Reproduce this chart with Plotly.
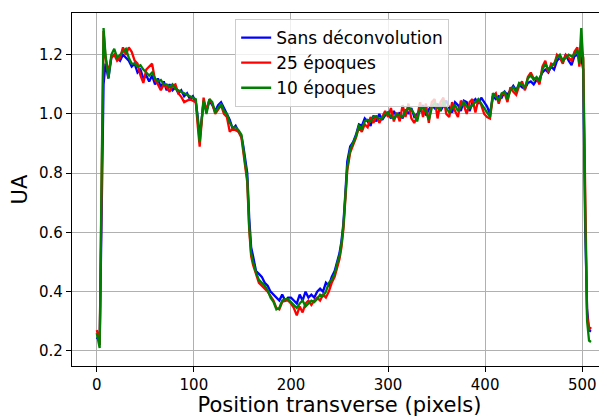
import plotly.graph_objects as go

x_pos = [0, 2, 3, 5, 7, 9, 12, 15, 18, 21, 24, 27, 30, 33, 36, 39, 42, 45, 48, 51, 54, 57, 60, 63, 66, 69, 72, 75, 78, 81, 84, 87, 90, 93, 96, 99, 102, 104, 106, 108, 110, 113, 116, 119, 122, 125, 128, 131, 134, 137, 140, 143, 146, 149, 151, 153, 155, 157, 159, 161, 164, 167, 170, 173, 176, 179, 182, 185, 188, 191, 194, 197, 200, 203, 206, 209, 212, 215, 218, 221, 224, 227, 230, 233, 236, 239, 242, 245, 248, 250, 252, 254, 256, 258, 261, 264, 267, 270, 273, 276, 279, 282, 285, 288, 291, 294, 297, 300, 303, 306, 309, 312, 315, 318, 321, 324, 327, 330, 333, 336, 339, 342, 345, 348, 351, 354, 357, 360, 363, 366, 369, 372, 375, 378, 381, 384, 387, 390, 393, 396, 399, 402, 405, 408, 411, 414, 417, 420, 423, 426, 429, 432, 435, 438, 441, 444, 447, 450, 453, 456, 459, 462, 465, 468, 471, 474, 477, 480, 483, 486, 489, 492, 495, 497, 499, 501, 503, 505, 507, 509]

sans_deconv = [0.24, 0.25, 0.22, 0.65, 1.10, 1.17, 1.12, 1.19, 1.20, 1.19, 1.18, 1.20, 1.19, 1.18, 1.16, 1.17, 1.14, 1.15, 1.12, 1.13, 1.11, 1.13, 1.10, 1.12, 1.09, 1.11, 1.08, 1.10, 1.08, 1.09, 1.07, 1.08, 1.06, 1.07, 1.05, 1.06, 1.04, 0.99, 0.92, 0.99, 1.04, 1.01, 1.045, 1.03, 1.01, 1.03, 1.04, 1.02, 1.00, 0.98, 0.95, 0.96, 0.94, 0.925, 0.89, 0.85, 0.80, 0.65, 0.55, 0.52, 0.47, 0.46, 0.45, 0.43, 0.42, 0.40, 0.39, 0.38, 0.37, 0.39, 0.37, 0.38, 0.38, 0.37, 0.36, 0.39, 0.37, 0.40, 0.38, 0.39, 0.38, 0.40, 0.41, 0.40, 0.43, 0.42, 0.45, 0.47, 0.51, 0.53, 0.57, 0.63, 0.73, 0.84, 0.89, 0.905, 0.93, 0.965, 0.96, 0.985, 0.975, 0.96, 0.995, 0.975, 1.00, 0.98, 0.995, 1.005, 0.985, 1.01, 0.99, 1.005, 0.985, 1.015, 1.00, 1.02, 0.99, 1.00, 1.01, 1.03, 0.995, 1.015, 1.03, 1.02, 1.035, 1.01, 1.03, 1.045, 1.02, 1.005, 1.04, 1.03, 1.01, 1.045, 1.04, 1.01, 1.04, 1.05, 1.035, 1.055, 1.04, 1.025, 1.00, 1.06, 1.05, 1.06, 1.055, 1.075, 1.065, 1.08, 1.095, 1.08, 1.10, 1.09, 1.085, 1.105, 1.11, 1.10, 1.115, 1.12, 1.14, 1.15, 1.14, 1.16, 1.15, 1.18, 1.19, 1.175, 1.20, 1.18, 1.165, 1.195, 1.20, 1.185, 1.19, 1.15, 0.62, 0.34, 0.27, 0.265]

epoques_25 = [0.27, 0.25, 0.22, 0.78, 1.28, 1.19, 1.14, 1.19, 1.20, 1.18, 1.19, 1.225, 1.20, 1.225, 1.21, 1.18, 1.17, 1.13, 1.105, 1.15, 1.16, 1.17, 1.115, 1.10, 1.08, 1.10, 1.09, 1.075, 1.095, 1.10, 1.07, 1.058, 1.04, 1.045, 1.05, 1.045, 1.04, 0.96, 0.89, 0.97, 1.055, 1.01, 1.05, 1.035, 1.00, 1.015, 1.03, 1.00, 0.99, 0.94, 0.95, 0.945, 0.94, 0.92, 0.87, 0.83, 0.77, 0.61, 0.52, 0.49, 0.46, 0.43, 0.42, 0.41, 0.40, 0.385, 0.37, 0.345, 0.34, 0.365, 0.37, 0.37, 0.36, 0.345, 0.32, 0.35, 0.33, 0.36, 0.37, 0.355, 0.37, 0.38, 0.37, 0.39, 0.38, 0.40, 0.43, 0.45, 0.49, 0.51, 0.55, 0.61, 0.71, 0.81, 0.87, 0.895, 0.92, 0.955, 0.94, 0.965, 0.955, 0.99, 0.97, 0.995, 0.97, 0.99, 1.01, 0.99, 1.02, 0.975, 1.005, 0.975, 1.03, 0.99, 1.035, 0.985, 0.97, 0.99, 1.04, 0.99, 1.035, 0.97, 1.04, 1.05, 0.985, 1.04, 1.055, 1.00, 0.99, 1.04, 1.01, 0.99, 1.045, 1.03, 1.00, 1.04, 1.05, 1.005, 1.05, 1.03, 1.00, 0.99, 0.985, 1.06, 1.07, 1.035, 1.065, 1.07, 1.04, 1.09, 1.075, 1.065, 1.095, 1.11, 1.08, 1.125, 1.14, 1.12, 1.12, 1.10, 1.16, 1.18, 1.14, 1.17, 1.165, 1.20, 1.19, 1.17, 1.20, 1.19, 1.18, 1.21, 1.225, 1.16, 1.22, 1.19, 0.70, 0.32, 0.27, 0.28]

epoques_10 = [0.26, 0.23, 0.21, 0.80, 1.29, 1.20, 1.12, 1.20, 1.22, 1.19, 1.20, 1.21, 1.22, 1.19, 1.17, 1.17, 1.16, 1.165, 1.15, 1.14, 1.13, 1.14, 1.12, 1.11, 1.115, 1.10, 1.10, 1.09, 1.10, 1.085, 1.08, 1.075, 1.07, 1.065, 1.06, 1.055, 1.05, 0.98, 0.905, 0.98, 1.045, 1.00, 1.05, 1.04, 1.005, 1.02, 1.035, 1.01, 1.00, 0.97, 0.955, 0.955, 0.945, 0.93, 0.88, 0.84, 0.78, 0.62, 0.53, 0.50, 0.465, 0.44, 0.43, 0.42, 0.405, 0.38, 0.366, 0.34, 0.345, 0.37, 0.375, 0.375, 0.365, 0.355, 0.345, 0.36, 0.37, 0.35, 0.36, 0.37, 0.365, 0.375, 0.39, 0.385, 0.40, 0.43, 0.44, 0.46, 0.50, 0.52, 0.56, 0.62, 0.72, 0.82, 0.88, 0.90, 0.925, 0.96, 0.95, 0.975, 0.98, 0.975, 0.99, 0.99, 0.985, 0.985, 1.00, 1.005, 0.99, 0.985, 1.00, 0.995, 0.99, 1.01, 1.02, 1.015, 1.00, 0.975, 1.02, 1.02, 1.01, 0.98, 1.02, 1.04, 1.02, 1.015, 1.045, 1.02, 1.005, 1.02, 1.03, 1.01, 1.025, 1.04, 1.025, 1.02, 1.03, 1.04, 1.05, 1.035, 1.02, 1.005, 0.99, 1.07, 1.06, 1.045, 1.07, 1.075, 1.05, 1.08, 1.09, 1.075, 1.105, 1.10, 1.09, 1.12, 1.13, 1.115, 1.125, 1.11, 1.15, 1.17, 1.15, 1.16, 1.17, 1.19, 1.20, 1.18, 1.19, 1.20, 1.195, 1.20, 1.215, 1.17, 1.29, 1.18, 0.68, 0.30, 0.235, 0.23]

series_names = ["Sans déconvolution", "25 époques", "10 époques"]
series_colors = ["blue", "red", "green"]
x_ticks = [0, 100, 200, 300, 400, 500]
y_ticks = [0.2, 0.4, 0.6, 0.8, 1.0, 1.2]

FONT = "DejaVu Sans"
fig = go.Figure()
for i, (name, vals, col) in enumerate(zip(series_names, [sans_deconv, epoques_25, epoques_10], series_colors)):
    fig.add_trace(go.Scatter(x=x_pos, y=vals, mode="lines", name=name,
                             line=dict(color=col, width=2.3), legendgroup=str(i)))

# the page body adds an 8px margin on top/left, so the figure is 8px smaller
fig.update_layout(
    width=599, height=409,
    margin=dict(l=64, r=0, t=5, b=51),
    paper_bgcolor="white", plot_bgcolor="white",
    font=dict(family=FONT, color="black", size=15),
    showlegend=True,
    legend=dict(x=0.305, y=0.983, xanchor="left", yanchor="top",
                bgcolor="rgba(255,255,255,0.8)", bordercolor="#cccccc", borderwidth=1,
                font=dict(family=FONT, size=17, color="black"), tracegroupgap=0,
                itemwidth=30),
    xaxis=dict(range=[-25.5, 525.5], tickvals=x_ticks, ticktext=[str(v) for v in x_ticks],
               showgrid=True, gridcolor="#b0b0b0", gridwidth=1,
               showline=True, linecolor="black", linewidth=1.2, mirror=True,
               ticks="outside", ticklen=5, tickcolor="black", zeroline=False,
               tickfont=dict(size=15),
               title=dict(text="Position transverse (pixels)", font=dict(size=21), standoff=6)),
    yaxis=dict(range=[0.149, 1.341], tickvals=y_ticks, ticktext=["%.1f" % v for v in y_ticks],
               showgrid=True, gridcolor="#b0b0b0", gridwidth=1,
               showline=True, linecolor="black", linewidth=1.2,
               ticks="outside", ticklen=5, tickcolor="black", zeroline=False,
               tickfont=dict(size=15),
               title=dict(text="UA", font=dict(size=21), standoff=8)),
)

fig.write_html("out.html")
